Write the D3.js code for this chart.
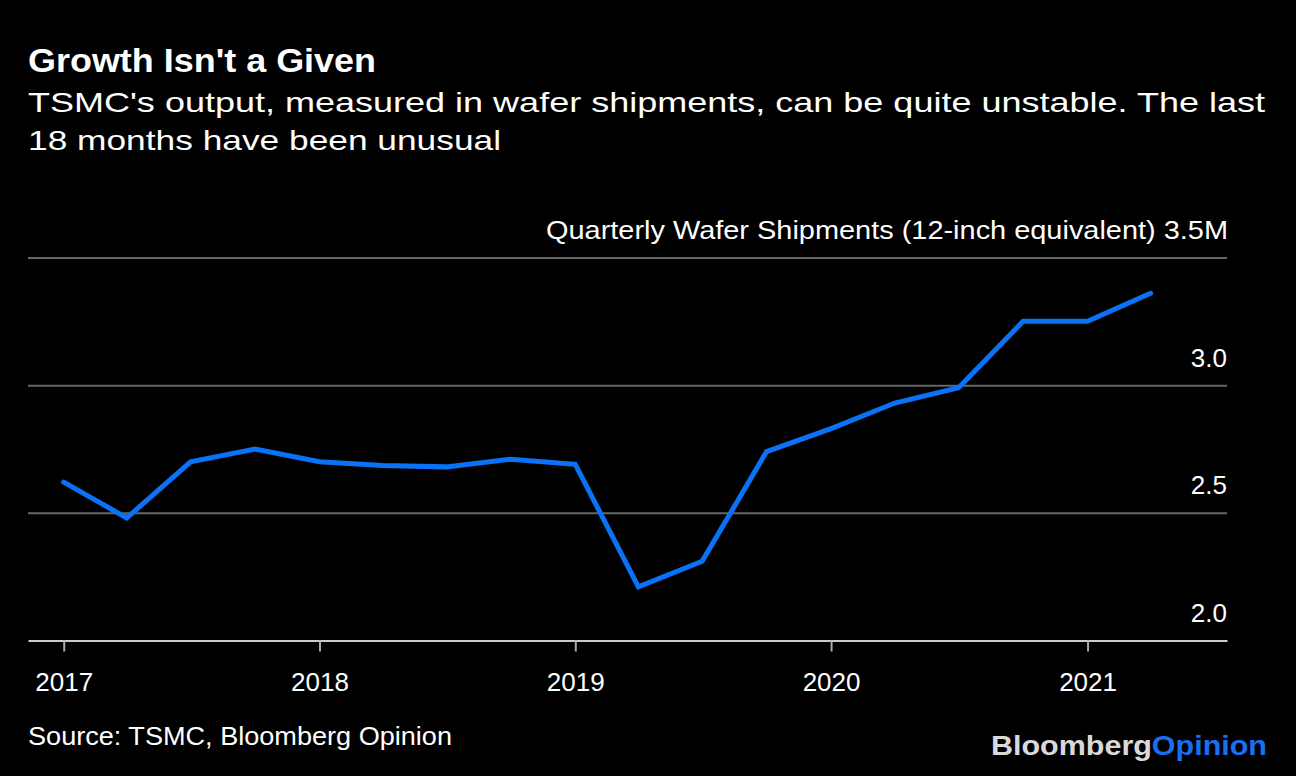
<!DOCTYPE html>
<html>
<head>
<meta charset="utf-8">
<script src="https://cdn.jsdelivr.net/npm/d3@7"></script>
<style>
  body { margin: 0; background: #000; }
  svg { display: block; font-family: "Liberation Sans", Arial, sans-serif; }
</style>
</head>
<body>
<svg id="chart"></svg>
<script>
// quarterly wafer shipments, millions of 12-inch equivalent wafers
const quarters = [
  "2017-01-01", "2017-04-01", "2017-07-01", "2017-10-01",
  "2018-01-01", "2018-04-01", "2018-07-01", "2018-10-01",
  "2019-01-01", "2019-04-01", "2019-07-01", "2019-10-01",
  "2020-01-01", "2020-04-01", "2020-07-01", "2020-10-01",
  "2021-01-01", "2021-04-01"
];
const shipments = [
  2.62, 2.48, 2.70, 2.75,
  2.70, 2.685, 2.68, 2.71,
  2.69, 2.21, 2.31, 2.74,
  2.83, 2.93, 2.99, 3.25,
  3.25, 3.36
];
const yearTicks = ["2017-01-01", "2018-01-01", "2019-01-01", "2020-01-01", "2021-01-01"];
const yTicks = [2.0, 2.5, 3.0, 3.5];

const W = 1296, H = 776;
const plotLeft = 28, plotRight = 1227, plotTop = 257.5, plotBottom = 640.5;

const svg = d3.select("#chart").attr("width", W).attr("height", H);
svg.append("rect").attr("width", W).attr("height", H).attr("fill", "#000");

const parse = d3.utcParse("%Y-%m-%d");
const data = quarters.map((q, i) => ({ date: parse(q), value: shipments[i] }));

const x = d3.scaleUtc()
    .domain([parse("2016-11-11"), parse("2021-07-19")])
    .range([plotLeft, plotRight]);

const y = d3.scaleLinear()
    .domain([2.0, 3.5])
    .range([plotBottom, plotTop]);

// titles (bloomberg font is wider than arial, so stretch to the same width)
svg.append("text")
    .attr("x", 28).attr("y", 72)
    .attr("fill", "#fff")
    .attr("textLength", 348)
    .attr("lengthAdjust", "spacingAndGlyphs")
    .style("font-size", "33px").style("font-weight", "bold")
    .text("Growth Isn't a Given");

const sub = svg.append("text")
    .attr("fill", "#fff")
    .style("font-size", "28px");
sub.append("tspan").attr("x", 28).attr("y", 112)
    .attr("textLength", 1237)
    .attr("lengthAdjust", "spacingAndGlyphs")
    .text("TSMC's output, measured in wafer shipments, can be quite unstable. The last");
sub.append("tspan").attr("x", 28).attr("y", 150)
    .attr("textLength", 473)
    .attr("lengthAdjust", "spacingAndGlyphs")
    .text("18 months have been unusual");

// y gridlines + labels
const yAxis = svg.append("g")
    .attr("transform", "translate(" + plotLeft + ",0)")
    .call(d3.axisRight(y)
        .tickValues(yTicks)
        .tickSize(plotRight - plotLeft)
        .tickFormat(d => d === 3.5 ? "Quarterly Wafer Shipments (12-inch equivalent) 3.5M" : d3.format(".1f")(d)))
    .call(g => g.select(".domain").remove());

yAxis.selectAll(".tick line")
    .attr("stroke", d => d === 2.0 ? "none" : "#666")
    .attr("stroke-width", 2);
yAxis.selectAll(".tick text")
    .attr("x", plotRight - plotLeft)
    .attr("dy", 0)
    .attr("y", -19)
    .attr("text-anchor", "end")
    .attr("fill", "#fff")
    .style("font-size", "26px");
yAxis.selectAll(".tick text")
    .filter(d => d === 3.5)
    .attr("x", 546 - plotLeft)
    .attr("text-anchor", "start")
    .attr("textLength", 682)
    .attr("lengthAdjust", "spacingAndGlyphs");

// x axis
const xAxis = svg.append("g")
    .attr("transform", "translate(0," + plotBottom + ")")
    .call(d3.axisBottom(x)
        .tickValues(yearTicks.map(parse))
        .tickSize(11)
        .tickSizeOuter(0)
        .tickFormat(d3.utcFormat("%Y")));

xAxis.select(".domain").attr("stroke", "#ccc").attr("stroke-width", 2);
xAxis.selectAll(".tick line").attr("stroke", "#aaa").attr("stroke-width", 2);
xAxis.selectAll(".tick text")
    .attr("y", 50).attr("dy", 0)
    .attr("fill", "#fff")
    .style("font-size", "26px");

// the line
const line = d3.line()
    .x(d => x(d.date))
    .y(d => y(d.value));

svg.append("path")
    .datum(data)
    .attr("fill", "none")
    .attr("stroke", "#0a72f7")
    .attr("stroke-width", 5)
    .attr("stroke-linejoin", "miter")
    .attr("stroke-linecap", "round")
    .attr("d", line);

// footer
svg.append("text")
    .attr("x", 28).attr("y", 745)
    .attr("fill", "#fff")
    .attr("textLength", 424)
    .attr("lengthAdjust", "spacingAndGlyphs")
    .style("font-size", "26px")
    .text("Source: TSMC, Bloomberg Opinion");

const logo = svg.append("text")
    .attr("x", 991).attr("y", 755)
    .attr("textLength", 276)
    .attr("lengthAdjust", "spacingAndGlyphs")
    .style("font-size", "28px").style("font-weight", "bold");
logo.append("tspan").attr("fill", "#d9d9d9").text("Bloomberg");
logo.append("tspan").attr("fill", "#1a6ff0").text("Opinion");
</script>
</body>
</html>
